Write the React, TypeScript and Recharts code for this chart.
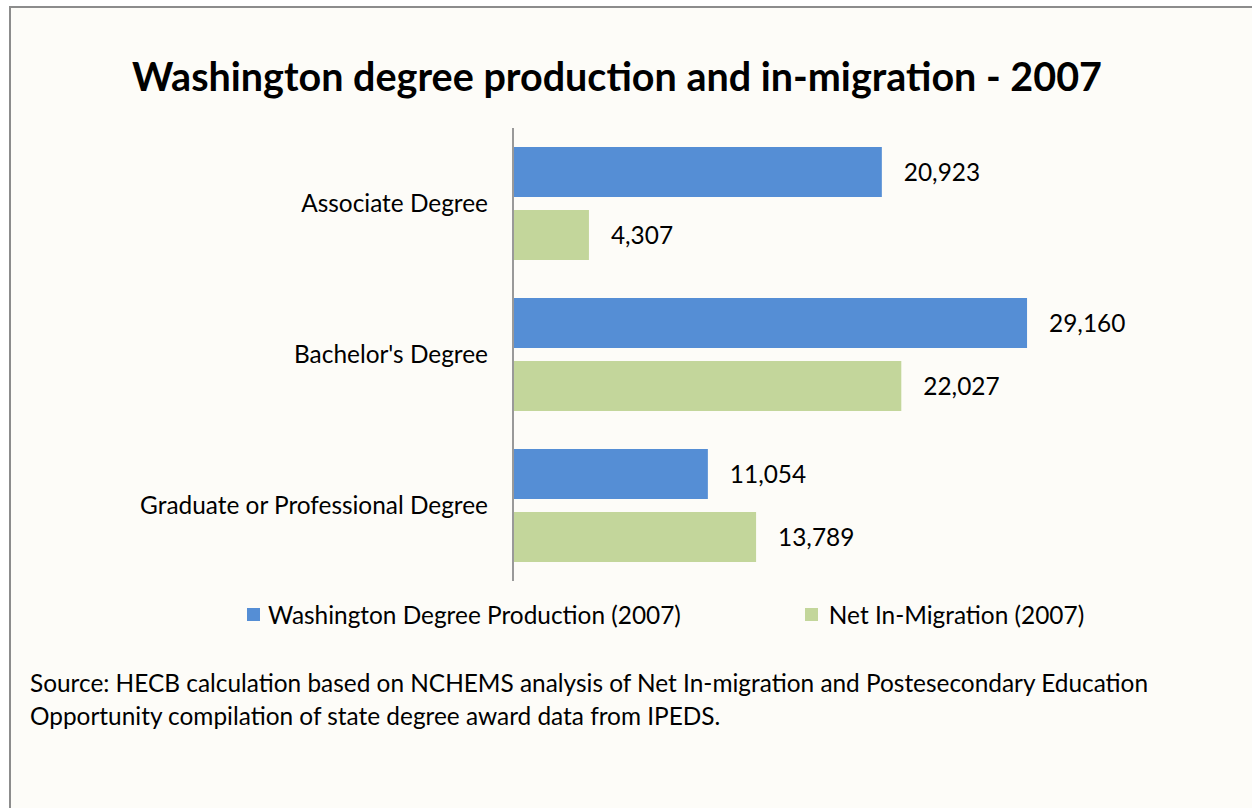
import React from 'react';
import { BarChart, Bar, XAxis, YAxis, LabelList } from 'recharts';

const categories = ['Associate Degree', "Bachelor's Degree", 'Graduate or Professional Degree'];
const production = [20923, 29160, 11054];
const inMigration = [4307, 22027, 13789];

const seriesNames = ['Washington Degree Production (2007)', 'Net In-Migration (2007)'];
const blue = '#558ed5';
const green = '#c3d69b';
const font = 'Lato, "Open Sans", sans-serif';
const textSize = 24.4;

const data = categories.map((name, i) => ({
  name,
  production: production[i],
  inMigration: inMigration[i],
}));

const fmt = (v: any) => Number(v).toLocaleString('en-US');

export default function App() {
  return (
    <div
      style={{
        position: 'absolute',
        left: 9,
        top: 6,
        width: 1260,
        height: 820,
        border: '2px solid #8c8c8c',
        background: '#fdfcf8',
        fontFamily: font,
        color: '#000',
      }}
    >
      <div
        style={{
          position: 'absolute',
          left: 0,
          width: 1212,
          top: 44,
          textAlign: 'center',
          fontSize: 39.5,
          fontWeight: 'bold',
        }}
      >
        Washington degree production and in-migration - 2007
      </div>

      <div style={{ position: 'absolute', left: 0, top: 0 }}>
        <BarChart
          width={1200}
          height={610}
          data={data}
          layout="vertical"
          margin={{ top: 120, right: 81, bottom: 37, left: 0 }}
          barSize={50}
          barGap={13}
        >
          <XAxis type="number" domain={[0, 35000]} hide />
          <YAxis
            type="category"
            dataKey="name"
            width={502}
            axisLine={{ stroke: '#999', strokeWidth: 2 }}
            tickLine={false}
            tickMargin={19}
            tick={{ fill: '#000', fontSize: textSize, fontFamily: font }}
          />
          <Bar dataKey="production" name={seriesNames[0]} fill={blue} isAnimationActive={false}>
            <LabelList
              dataKey="production"
              position="right"
              offset={22}
              formatter={fmt}
              style={{ fill: '#000', fontSize: textSize, fontFamily: font }}
            />
          </Bar>
          <Bar dataKey="inMigration" name={seriesNames[1]} fill={green} isAnimationActive={false}>
            <LabelList
              dataKey="inMigration"
              position="right"
              offset={22}
              formatter={fmt}
              style={{ fill: '#000', fontSize: textSize, fontFamily: font }}
            />
          </Bar>
        </BarChart>
      </div>

      <div
        style={{
          position: 'absolute',
          top: 592,
          left: 236,
          display: 'flex',
          alignItems: 'center',
          fontSize: textSize,
        }}
      >
        <span style={{ display: 'inline-block', width: 13, height: 13, background: blue, marginRight: 8 }} />
        <span>{seriesNames[0]}</span>
        <span
          style={{ display: 'inline-block', width: 13, height: 13, background: green, marginLeft: 124, marginRight: 11 }}
        />
        <span>{seriesNames[1]}</span>
      </div>

      <div
        style={{
          position: 'absolute',
          top: 658,
          left: 19,
          fontSize: textSize,
          lineHeight: '33px',
        }}
      >
        Source: HECB calculation based on NCHEMS analysis of Net In-migration and Postesecondary Education
        <br />
        Opportunity compilation of state degree award data from IPEDS.
      </div>
    </div>
  );
}
